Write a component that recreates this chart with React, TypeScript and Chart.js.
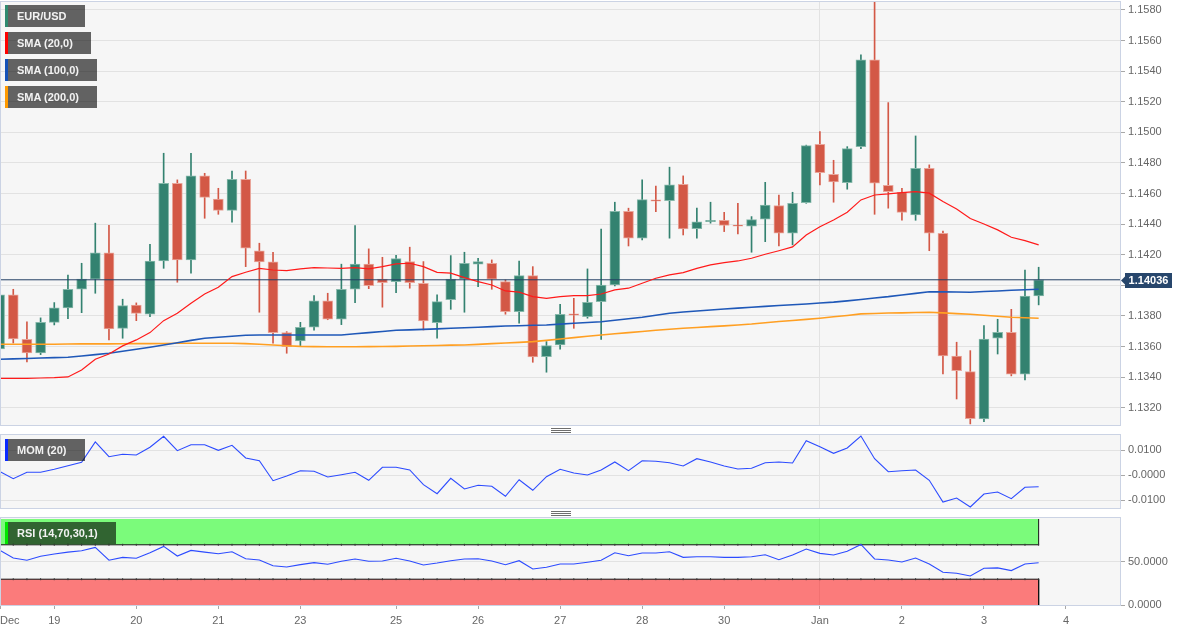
import React, { useEffect, useRef } from 'react';
import { Chart, registerables } from 'chart.js';

Chart.register(...registerables);

const FONT = 'Arial, "Liberation Sans", sans-serif';

// ---------- DATA (4h candles, EUR/USD) ----------
const OPEN = [
  1.13584, 1.13937, 1.13647, 1.13558, 1.13758, 1.13852, 1.13974, 1.1404, 1.14213, 1.13719,
  1.1387, 1.13811, 1.14159, 1.14667, 1.14166, 1.14715, 1.14564, 1.1449, 1.14693, 1.14225,
  1.14153, 1.13691, 1.13636, 1.13726, 1.13898, 1.13778, 1.13974, 1.14138, 1.1404, 1.14024,
  1.14155, 1.14013, 1.13756, 1.13906, 1.1404, 1.14138, 1.14144, 1.14024, 1.13828, 1.14063,
  1.13534, 1.1361, 1.13813, 1.13795, 1.13893, 1.14002, 1.14484, 1.14308, 1.14558, 1.14553,
  1.1466, 1.1437, 1.14416, 1.14425, 1.14394, 1.14386, 1.14432, 1.14521, 1.1434, 1.1454,
  1.14922, 1.14726, 1.14671, 1.14906, 1.15473, 1.14654, 1.14608, 1.1446, 1.14765, 1.1434,
  1.13538, 1.13436, 1.13126, 1.13654, 1.13693, 1.13419, 1.1393,
];
const HIGH = [
  1.14035, 1.13974, 1.13762, 1.13787, 1.13887, 1.14066, 1.14144, 1.14406, 1.14392, 1.13909,
  1.13885, 1.14268, 1.14863, 1.14689, 1.14863, 1.14732, 1.14634, 1.14747, 1.14747, 1.14275,
  1.14216, 1.13697, 1.13758, 1.13932, 1.13948, 1.14138, 1.1439, 1.14238, 1.14183, 1.14196,
  1.14249, 1.14155, 1.13937, 1.14194, 1.14216, 1.14177, 1.14166, 1.14035, 1.14159, 1.14122,
  1.13632, 1.13876, 1.13915, 1.14107, 1.14368, 1.14543, 1.14504, 1.14689, 1.14649, 1.14772,
  1.14715, 1.14504, 1.14543, 1.14477, 1.14536, 1.14449, 1.14673, 1.1459, 1.14608, 1.14916,
  1.15004, 1.14817, 1.14906, 1.15506, 1.1585, 1.15194, 1.14634, 1.14976, 1.14787, 1.14355,
  1.13628, 1.13573, 1.13736, 1.13778, 1.13843, 1.141, 1.14118,
];
const LOW = [
  1.13545, 1.13623, 1.13499, 1.13547, 1.13741, 1.13782, 1.13821, 1.13948, 1.13643, 1.13654,
  1.13769, 1.13795, 1.14111, 1.1402, 1.14079, 1.14438, 1.14464, 1.14412, 1.14122, 1.13824,
  1.13621, 1.13556, 1.13606, 1.13706, 1.13775, 1.13743, 1.13887, 1.13978, 1.13857, 1.13952,
  1.13981, 1.13708, 1.13654, 1.13843, 1.13824, 1.13991, 1.13974, 1.13811, 1.13752, 1.13497,
  1.13432, 1.13582, 1.13719, 1.13785, 1.13647, 1.13996, 1.14257, 1.14296, 1.14481, 1.14308,
  1.14329, 1.14308, 1.14406, 1.14351, 1.14336, 1.14216, 1.14285, 1.14257, 1.14264, 1.14536,
  1.14656, 1.14543, 1.14628, 1.14893, 1.14464, 1.14504, 1.14425, 1.14425, 1.14226, 1.13421,
  1.13257, 1.13094, 1.13109, 1.13551, 1.13408, 1.13381, 1.13872,
];
const CLOSE = [
  1.13937, 1.13649, 1.13558, 1.13758, 1.13852, 1.13974, 1.1404, 1.14213, 1.13715, 1.13867,
  1.13817, 1.14159, 1.14667, 1.14166, 1.14715, 1.14575, 1.1449, 1.14693, 1.14242, 1.14153,
  1.13691, 1.13599, 1.13726, 1.13898, 1.13778, 1.13974, 1.14138, 1.13998, 1.14017, 1.14174,
  1.14017, 1.13767, 1.13893, 1.1404, 1.14144, 1.14155, 1.1404, 1.13828, 1.14063, 1.13532,
  1.13606, 1.13811, 1.13804, 1.13889, 1.14002, 1.14484, 1.14308, 1.1456, 1.14549, 1.14656,
  1.14368, 1.14414, 1.14425, 1.14392, 1.14386, 1.14429, 1.14525, 1.1434, 1.14536, 1.14913,
  1.14736, 1.14675, 1.14893, 1.15473, 1.14667, 1.14612, 1.14477, 1.14765, 1.1434, 1.13538,
  1.13442, 1.13128, 1.13649, 1.13693, 1.13419, 1.1393, 1.14036,
];
const SMA20 = [
  1.13392, 1.13392, 1.13392, 1.13394, 1.13396, 1.13401, 1.13447, 1.13517, 1.13551, 1.13604,
  1.13643, 1.13691, 1.13769, 1.13817, 1.13883, 1.13943, 1.13987, 1.14057, 1.14085, 1.14111,
  1.141, 1.14096, 1.14107, 1.14115, 1.14113, 1.14111, 1.14115, 1.14107, 1.14122, 1.1414,
  1.14144, 1.14122, 1.14085, 1.14079, 1.1405, 1.14024, 1.14002, 1.13963, 1.13955, 1.13926,
  1.13915, 1.13926, 1.13932, 1.13932, 1.13943, 1.1397, 1.13981, 1.14013, 1.14046, 1.14068,
  1.14083, 1.14111, 1.14133, 1.14148, 1.14159, 1.14177, 1.14203, 1.14226, 1.14251, 1.14329,
  1.14383, 1.14427, 1.14477, 1.14558, 1.1459, 1.14597, 1.14606, 1.14612, 1.14602, 1.14547,
  1.14499, 1.14436, 1.14401, 1.14362, 1.14314, 1.14292, 1.14264,
];
const SMA100 = [
  1.13517, 1.13519, 1.13522, 1.13525, 1.13527, 1.1353, 1.13538, 1.13547, 1.13556, 1.13569,
  1.13582, 1.13595, 1.1361, 1.13625, 1.1364, 1.13654, 1.1366, 1.13667, 1.13674, 1.13675,
  1.13675, 1.13675, 1.13675, 1.13675, 1.13675, 1.13675, 1.13683, 1.13691, 1.13698, 1.13706,
  1.13709, 1.13712, 1.13715, 1.13719, 1.13723, 1.13726, 1.1373, 1.13734, 1.13736, 1.13739,
  1.13741, 1.13746, 1.13752, 1.13757, 1.13762, 1.13772, 1.13781, 1.13791, 1.13804, 1.13817,
  1.13825, 1.13832, 1.13839, 1.13845, 1.13851, 1.13857, 1.13862, 1.13868, 1.13873, 1.13878,
  1.13884, 1.1389, 1.13898, 1.13907, 1.13917, 1.13926, 1.13937, 1.13947, 1.13958, 1.13957,
  1.13956, 1.13955, 1.13959, 1.13963, 1.13968, 1.13971, 1.13974,
];
const SMA200 = [
  1.13615, 1.13615, 1.13615, 1.13615, 1.13615, 1.13616, 1.13617, 1.13617, 1.13617, 1.13618,
  1.13619, 1.13619, 1.1362, 1.13621, 1.13621, 1.13621, 1.13621, 1.13621, 1.13619, 1.13615,
  1.1361, 1.13605, 1.13601, 1.13599, 1.13598, 1.13598, 1.13598, 1.13599, 1.136, 1.13601,
  1.13603, 1.13605, 1.13607, 1.13609, 1.1361, 1.13614, 1.13619, 1.13623, 1.13627, 1.13632,
  1.1364, 1.13649, 1.13658, 1.13667, 1.13675, 1.13683, 1.13691, 1.13698, 1.13706, 1.13713,
  1.13719, 1.13724, 1.1373, 1.13735, 1.13741, 1.13747, 1.13755, 1.13763, 1.1377, 1.13777,
  1.13785, 1.13794, 1.13803, 1.13813, 1.13816, 1.13819, 1.1382, 1.13822, 1.13824, 1.1382,
  1.13815, 1.13811, 1.13804, 1.13798, 1.13791, 1.13788, 1.13785,
];
const MOM = [
  0.0016, -0.00136, 0.0012, 0.0012, 0.0024, 0.00384, 0.0052, 0.01332, 0.00744, 0.0084,
  0.00812, 0.0112, 0.0156, 0.00984, 0.01224, 0.01224, 0.01, 0.012, 0.00692, 0.00584,
  -0.00216, -0.00028, 0.00184, 0.0016, -0.00068, 0.00024, 0.0012, -0.002, 0.0032, 0.0032,
  0.00212, -0.00376, -0.00736, -0.0012, -0.00548, -0.004, -0.0044, -0.0084, -0.00176, -0.006,
  -0.00056, 0.0024, 0.00092, 0.00012, 0.00212, 0.00532, 0.00184, 0.00584, 0.0056, 0.00504,
  0.00372, 0.00664, 0.00532, 0.00372, 0.00252, 0.0028, 0.00504, 0.00532, 0.00492, 0.01384,
  0.01144, 0.0088, 0.01092, 0.01572, 0.00664, 0.00144, 0.00184, 0.00212, -0.002, -0.01068,
  -0.00908, -0.01268, -0.00748, -0.00668, -0.00936, -0.0048, -0.00456,
];
const RSI = [
  63.9, 54.6, 52, 56.6, 59.2, 61.5, 63.1, 67, 52, 55.4,
  54.3, 60.7, 68.1, 56.9, 63.5, 61.5, 59.6, 61.9, 53.8, 52.3,
  45.7, 44.2, 46.9, 49.2, 47.3, 50.8, 53.5, 50.8, 51.2, 54.3,
  51.2, 46.5, 48.8, 51.5, 53.5, 53.8, 51.2, 46.9, 51.5, 41.9,
  43.9, 47.7, 47.7, 49.7, 52, 60.7, 57.3, 60.4, 60.4, 61.9,
  55.4, 56.1, 56.1, 55.4, 55.4, 56.1, 58.4, 52.7, 58.1, 65,
  60, 58.1, 62.4, 70.4, 53.5, 52.3, 50, 54.6, 47.7, 38.1,
  37, 33.8, 42.7, 43.1, 40, 47.7, 49.2,
];

const LAST_PRICE = 1.14036;

const X_MIN = 0.03;
const X_MAX = 81.95;
const X_TICK_POS = [X_MIN, 4, 10, 16, 22, 29, 35, 41, 47, 53, 60, 66, 72, 78, X_MAX];
const X_TICK_LABELS = ['Dec', '19', '20', '21', '23', '25', '26', '27', '28', '30', 'Jan', '2', '3', '4', ''];
const MONTH_TICK = 60;

const PRICE_MIN = 1.13087;
const PRICE_MAX = 1.15858;
const PRICE_TICKS = [1.132, 1.134, 1.136, 1.138, 1.14, 1.142, 1.144, 1.146, 1.148, 1.15, 1.152, 1.154, 1.156, 1.158];

const MOM_MIN = -0.01308;
const MOM_MAX = 0.01652;
const MOM_TICKS = [-0.01, 0, 0.01];
const MOM_TICK_LABELS = ['-0.0100', '-0.0000', '0.0100'];

const RSI_MIN = 0;
const RSI_MAX = 102.3;
const RSI_TICKS = [0, 50];
const RSI_TICK_LABELS = ['0.0000', '50.0000'];
const RSI_HIGH = 70;
const RSI_LOW = 30;
const RSI_CEIL = 100;
const RSI_FLOOR = 0;

// ---------- STYLE ----------
const UP = '#338270';
const DOWN = '#d35846';
const UP_EDGE = '#86b8aa';
const DOWN_EDGE = '#e9a69b';
const GRID = '#e2e2e2';
const TICK = '#a8a8a8';
const LABEL = '#666666';

const idx = OPEN.map((_, i) => i);
const LAST = idx.length - 1;
const isUp = (i: number) => CLOSE[i] >= OPEN[i];

const panelPlugin = {
  id: 'panelBg',
  beforeDraw(chart: any) {
    const { ctx, chartArea: a } = chart;
    ctx.save();
    ctx.fillStyle = '#f6f6f6';
    ctx.fillRect(a.left, a.top, a.right - a.left, a.bottom - a.top);
    ctx.restore();
  },
  afterDatasetsDraw(chart: any) {
    const { ctx, chartArea: a } = chart;
    ctx.save();
    ctx.strokeStyle = '#cbd3e4';
    ctx.lineWidth = 1;
    ctx.strokeRect(a.left + 0.5, a.top + 0.5, a.right - a.left, a.bottom - a.top);
    ctx.restore();
  },
};

const priceTagPlugin = {
  id: 'priceTag',
  afterDraw(chart: any) {
    const { ctx, chartArea: a } = chart;
    const y = Math.round(chart.scales.y.getPixelForValue(LAST_PRICE)) + 0.5;
    const x0 = a.right + 1;
    ctx.save();
    ctx.fillStyle = '#27466c';
    ctx.beginPath();
    ctx.moveTo(x0, y);
    ctx.lineTo(x0 + 4, y - 4);
    ctx.lineTo(x0 + 4, y + 4);
    ctx.closePath();
    ctx.fill();
    ctx.fillRect(x0 + 4, y - 7.5, 47, 15);
    ctx.fillStyle = '#ffffff';
    ctx.font = 'bold 11px ' + FONT;
    ctx.textAlign = 'center';
    ctx.textBaseline = 'middle';
    ctx.fillText(LAST_PRICE.toFixed(5), x0 + 4 + 23.5, y + 0.5);
    ctx.restore();
  },
};

function xAxis(showLabels: boolean) {
  return {
    type: 'linear',
    min: X_MIN,
    max: X_MAX,
    offset: false,
    afterBuildTicks: (s: any) => {
      s.ticks = X_TICK_POS.map((v) => ({ value: v }));
    },
    ticks: {
      display: showLabels,
      autoSkip: false,
      maxRotation: 0,
      minRotation: 0,
      align: 'inner',
      padding: 5,
      color: LABEL,
      font: { family: FONT, size: 11 },
      callback: (_v: any, i: number) => X_TICK_LABELS[i],
    },
    grid: {
      offset: false,
      drawTicks: showLabels,
      tickLength: 4,
      color: (c: any) => (c.tick && c.tick.value === MONTH_TICK ? GRID : 'rgba(0,0,0,0)'),
      tickColor: (c: any) => (c.index === X_TICK_POS.length - 1 ? 'rgba(0,0,0,0)' : TICK),
    },
    border: { display: false },
    afterFit: (s: any) => {
      s.height = showLabels ? 27 : 0;
      s.paddingLeft = 0;
      s.paddingRight = 0;
    },
  };
}

function yAxis(min: number, max: number, ticks: number[], label: (v: number, i: number) => string) {
  return {
    type: 'linear',
    position: 'right',
    min,
    max,
    afterBuildTicks: (s: any) => {
      s.ticks = ticks.map((v) => ({ value: v }));
    },
    ticks: {
      color: LABEL,
      padding: 3,
      font: { family: FONT, size: 11 },
      callback: (v: any, i: number) => label(Number(v), i),
    },
    grid: { color: GRID, tickColor: TICK, tickLength: 5 },
    border: { display: false },
    afterFit: (s: any) => {
      s.width = 71;
      s.paddingTop = 0;
      s.paddingBottom = 0;
    },
  };
}

const baseOptions = {
  animation: false,
  responsive: false,
  events: [],
  plugins: { legend: { display: false }, tooltip: { enabled: false } },
};

const line = (arr: number[], color: string, width: number, order = 0) => ({
  type: 'line',
  data: idx.map((i) => ({ x: i, y: arr[i] })),
  borderColor: color,
  borderWidth: width,
  pointRadius: 0,
  pointHoverRadius: 0,
  tension: 0,
  fill: false,
  order,
});

const Tag = ({ top, stripe, text }: { top: number; stripe: string; text: string }) => (
  <div
    style={{
      position: 'absolute',
      left: 5,
      top,
      height: 22,
      background: 'rgba(0,0,0,0.6)',
      display: 'flex',
      alignItems: 'center',
      paddingRight: 18,
      boxSizing: 'border-box',
    }}
  >
    <div style={{ width: 3, height: '100%', background: stripe }} />
    <span style={{ marginLeft: 9, color: '#f2f2f2', font: 'bold 11px ' + FONT, whiteSpace: 'nowrap' }}>{text}</span>
  </div>
);

const Handle = ({ top }: { top: number }) => (
  <div style={{ position: 'absolute', left: 551, top, width: 20, height: 5 }}>
    {[0, 2, 4].map((o) => (
      <div key={o} style={{ position: 'absolute', left: 0, top: o, width: 20, height: 1, background: '#6e6e6e' }} />
    ))}
  </div>
);

export default function App() {
  const mainRef = useRef<HTMLCanvasElement>(null);
  const momRef = useRef<HTMLCanvasElement>(null);
  const rsiRef = useRef<HTMLCanvasElement>(null);

  useEffect(() => {
    const charts: Chart[] = [];

    charts.push(
      new Chart(mainRef.current as HTMLCanvasElement, {
        type: 'bar',
        data: {
          datasets: [
            line(SMA20, '#ff1a1a', 1.2),
            line(SMA100, '#1f58b8', 1.6),
            line(SMA200, '#ff9f22', 1.6),
            {
              type: 'line',
              data: [
                { x: X_MIN, y: LAST_PRICE },
                { x: X_MAX, y: LAST_PRICE },
              ],
              borderColor: '#223f63',
              borderWidth: 1,
              pointRadius: 0,
              pointHoverRadius: 0,
              order: 0,
            },
            {
              type: 'bar',
              data: idx.map((i) => ({ x: i, y: [Math.min(OPEN[i], CLOSE[i]), Math.max(OPEN[i], CLOSE[i])] })),
              backgroundColor: idx.map((i) => (isUp(i) ? UP : DOWN)),
              borderColor: idx.map((i) => (isUp(i) ? UP_EDGE : DOWN_EDGE)),
              borderWidth: 1,
              borderSkipped: false,
              barThickness: 10,
              grouped: false,
              order: 1,
            },
            {
              type: 'bar',
              data: idx.map((i) => ({ x: i, y: [LOW[i], HIGH[i]] })),
              backgroundColor: idx.map((i) => (isUp(i) ? UP : DOWN)),
              borderWidth: 0,
              barThickness: 1,
              grouped: false,
              order: 2,
            },
          ],
        } as any,
        options: {
          ...baseOptions,
          layout: { autoPadding: false, padding: { top: 1, bottom: 1, left: 0, right: 0 } },
          scales: {
            x: xAxis(false),
            y: yAxis(PRICE_MIN, PRICE_MAX, PRICE_TICKS, (v) => v.toFixed(4)),
          },
        } as any,
        plugins: [panelPlugin, priceTagPlugin],
      })
    );

    charts.push(
      new Chart(momRef.current as HTMLCanvasElement, {
        type: 'line',
        data: { datasets: [line(MOM, '#2c4bff', 1.1)] } as any,
        options: {
          ...baseOptions,
          layout: { autoPadding: false, padding: { top: 1, bottom: 2, left: 0, right: 0 } },
          scales: {
            x: xAxis(false),
            y: yAxis(MOM_MIN, MOM_MAX, MOM_TICKS, (_v, i) => MOM_TICK_LABELS[i]),
          },
        } as any,
        plugins: [panelPlugin],
      })
    );

    const band = (edge: number, bound: number, fillColor: string, order: number) => ({
      type: 'line',
      data: [...idx.map((i) => ({ x: i, y: edge })), { x: LAST, y: bound }],
      borderColor: '#111',
      borderWidth: 1,
      backgroundColor: fillColor,
      fill: { value: bound },
      pointStyle: 'line',
      rotation: 90,
      pointRadius: (c: any) => (c.dataIndex <= LAST ? 1 : 0),
      pointHoverRadius: 0,
      pointBorderColor: '#333',
      pointBorderWidth: 1,
      tension: 0,
      order,
    });

    charts.push(
      new Chart(rsiRef.current as HTMLCanvasElement, {
        type: 'line',
        data: {
          datasets: [
            line(RSI, '#2c4bff', 1.1, 0),
            band(RSI_HIGH, RSI_CEIL, 'rgba(0,255,0,0.5)', 1),
            band(RSI_LOW, RSI_FLOOR, 'rgba(255,0,0,0.5)', 2),
          ],
        } as any,
        options: {
          ...baseOptions,
          layout: { autoPadding: false, padding: { top: 1, bottom: 0, left: 0, right: 0 } },
          scales: {
            x: xAxis(true),
            y: yAxis(RSI_MIN, RSI_MAX, RSI_TICKS, (_v, i) => RSI_TICK_LABELS[i]),
          },
        } as any,
        plugins: [panelPlugin],
      })
    );

    return () => charts.forEach((c) => c.destroy());
  }, []);

  return (
    <div
      style={{
        position: 'absolute',
        left: 0,
        top: 0,
        width: 1191,
        height: 632,
        background: '#ffffff',
        overflow: 'hidden',
        fontFamily: FONT,
      }}
    >
      <canvas ref={mainRef} width={1191} height={426} style={{ position: 'absolute', left: 0, top: 0 }} />
      <canvas ref={momRef} width={1191} height={77} style={{ position: 'absolute', left: 0, top: 433 }} />
      <canvas ref={rsiRef} width={1191} height={116} style={{ position: 'absolute', left: 0, top: 516 }} />

      <Tag top={5} stripe="#2f8a70" text="EUR/USD" />
      <Tag top={32} stripe="#ff0000" text="SMA (20,0)" />
      <Tag top={59} stripe="#1552b8" text="SMA (100,0)" />
      <Tag top={86} stripe="#ff9a00" text="SMA (200,0)" />
      <Tag top={439} stripe="#0a2aff" text="MOM (20)" />
      <Tag top={522} stripe="#00e600" text="RSI (14,70,30,1)" />

      <Handle top={428} />
      <Handle top={511} />
    </div>
  );
}
